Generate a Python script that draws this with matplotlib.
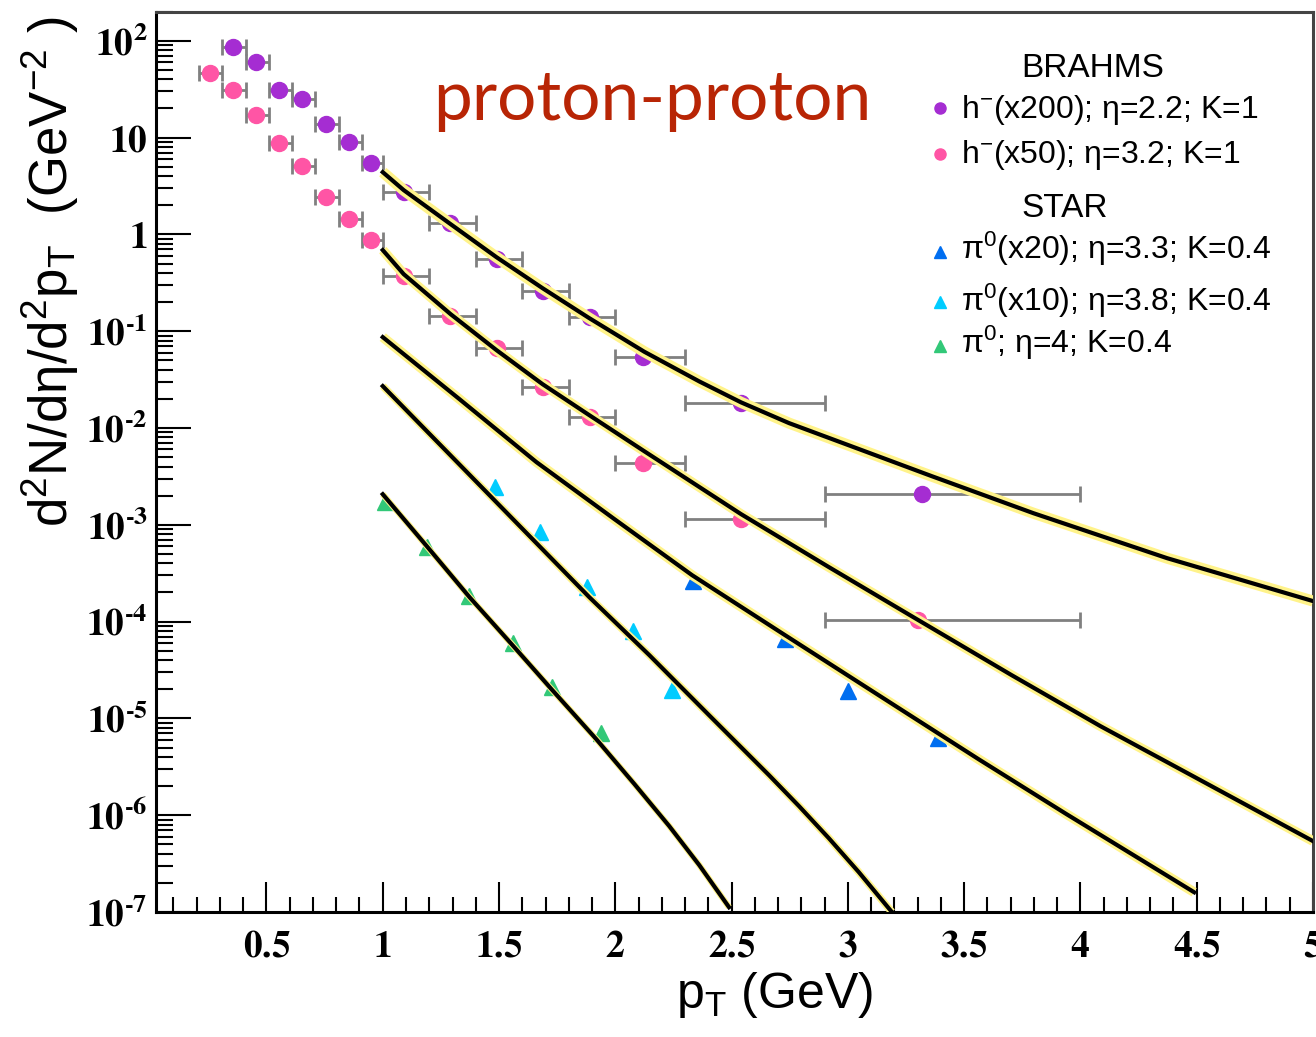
import numpy as np
import matplotlib
matplotlib.use("Agg")
import matplotlib.pyplot as plt
from matplotlib import font_manager as fm
from matplotlib.ticker import FixedLocator, MultipleLocator, NullFormatter

names = {f.name for f in fm.fontManager.ttflist}
NARROW = "Liberation Sans Narrow" if "Liberation Sans Narrow" in names else "Liberation Sans"
plt.rcParams["mathtext.fontset"] = "stix"
plt.rcParams["mathtext.rm"] = NARROW
plt.rcParams["mathtext.it"] = NARROW + ":italic"
plt.rcParams["mathtext.bf"] = NARROW + ":bold"
plt.rcParams["mathtext.sf"] = NARROW

# BRAHMS h- (x200), eta=2.2
h200_x = [0.357, 0.455, 0.555, 0.654, 0.754, 0.853, 0.951, 1.091, 1.29, 1.49, 1.69, 1.89, 2.12, 2.54, 3.32]
h200_y = [86.7, 60.7, 31.0, 25.2, 13.8, 9.05, 5.41, 2.75, 1.30, 0.556, 0.260, 0.141, 0.0536, 0.0180, 0.00207]
h200_lo = [0.31, 0.41, 0.51, 0.61, 0.71, 0.81, 0.91, 1.0, 1.2, 1.4, 1.6, 1.8, 2.0, 2.3, 2.9]
h200_hi = [0.41, 0.51, 0.61, 0.71, 0.81, 0.91, 1.0, 1.2, 1.4, 1.6, 1.8, 2.0, 2.3, 2.9, 4.0]
# BRAHMS h- (x50), eta=3.2
h50_x = [0.257, 0.357, 0.455, 0.555, 0.654, 0.754, 0.853, 0.951, 1.091, 1.29, 1.49, 1.69, 1.89, 2.12, 2.54, 3.30]
h50_y = [46.0, 31.0, 17.1, 8.71, 5.08, 2.44, 1.44, 0.873, 0.373, 0.143, 0.0664, 0.0267, 0.0129, 0.00431, 0.00116, 1.05e-4]
h50_lo = [0.21, 0.31, 0.41, 0.51, 0.61, 0.71, 0.81, 0.91, 1.0, 1.2, 1.4, 1.6, 1.8, 2.0, 2.3, 2.9]
h50_hi = [0.31, 0.41, 0.51, 0.61, 0.71, 0.81, 0.91, 1.0, 1.2, 1.4, 1.6, 1.8, 2.0, 2.3, 2.9, 4.0]
# STAR pi0
pi20_x = [2.332, 2.730, 3.0, 3.386]
pi20_y = [2.64e-4, 6.55e-5, 1.93e-5, 6.21e-6]
pi10_x = [1.481, 1.678, 1.877, 2.074, 2.243]
pi10_y = [2.47e-3, 8.47e-4, 2.29e-4, 7.98e-5, 1.96e-5]
pi1_x = [1.009, 1.190, 1.369, 1.559, 1.727, 1.939]
pi1_y = [1.73e-3, 5.93e-4, 1.83e-4, 6.04e-5, 2.09e-5, 7.0e-6]

# theory curves (yellow band = uncertainty)
thA_x = [1.0, 1.090, 1.292, 1.489, 1.687, 1.888, 2.124, 2.361, 2.541, 2.747, 2.979, 3.361, 3.798, 4.373, 5.0]
thA_y = [4.40, 2.87, 1.276, 0.582, 0.2786, 0.1365, 0.0615, 0.0303, 0.0184, 0.01124, 6.98e-3, 3.18e-3,
         1.318e-3, 4.52e-4, 1.63e-4]
thB_x = [1.0, 1.090, 1.292, 1.489, 1.687, 1.888, 2.124, 2.541, 2.918, 3.296, 3.704, 4.086, 4.373, 5.0]
thB_y = [0.689, 0.389, 0.150, 0.0638, 0.0284, 0.01358, 5.77e-3, 1.288e-3, 3.66e-4, 1.06e-4, 2.80e-5,
         8.32e-6, 3.53e-6, 5.4e-7]
thC_x = [1.0, 1.330, 1.661, 1.996, 2.330, 2.730, 3.219, 3.562, 3.940, 4.489]
thC_y = [0.0869, 0.01986, 4.44e-3, 1.146e-3, 3.02e-4, 7.24e-5, 1.277e-5, 3.79e-6, 1.026e-6, 1.60e-7]
thD_x = [1.0, 1.416, 1.888, 2.146, 2.403, 2.661, 2.790, 2.918, 3.047, 3.189]
thD_y = [0.0271, 2.58e-3, 1.79e-4, 4.51e-5, 1.08e-5, 2.59e-6, 1.24e-6, 5.79e-7, 2.58e-7, 1.0e-7]
thE_x = [1.0, 1.189, 1.373, 1.558, 1.725, 1.918, 2.082, 2.232, 2.361, 2.489]
thE_y = [2.07e-3, 6.03e-4, 1.79e-4, 5.71e-5, 2.01e-5, 6.11e-6, 2.10e-6, 7.71e-7, 3.05e-7, 1.12e-7]

xticks = [0.5, 1, 1.5, 2, 2.5, 3, 3.5, 4, 4.5, 5]
xlabels = ["0.5", "1", "1.5", "2", "2.5", "3", "3.5", "4", "4.5", "5"]
yticks = [1e-7, 1e-6, 1e-5, 1e-4, 1e-3, 1e-2, 1e-1, 1, 10, 100]
ylabels = ["10^{‐7}", "10^{‐6}", "10^{‐5}", "10^{‐4}", "10^{‐3}", "10^{‐2}", "10^{‐1}", "1", "10", "10^{2}"]

PURPLE, PINK, BLUE, CYAN, GREEN = "#A52DD2", "#FF55A5", "#006EF0", "#00CCFF", "#32C878"

W, H = 1316, 1037
fig = plt.figure(figsize=(W / 100, H / 100), dpi=100)
ax = fig.add_axes([156 / W, 1 - 912 / H, (1313 - 156) / W, (912 - 11.7) / H])
ax.set_yscale("log")
ax.set_xlim(0.025, 5.0)
ax.set_ylim(1e-7, 200)

def data(x, y, lo, hi, c):
    x = np.array(x); xe = [x - np.array(lo), np.array(hi) - x]
    ax.errorbar(x, y, xerr=xe, fmt="none", ecolor="#808080", elinewidth=2, capsize=6, capthick=2, zorder=2)
    ax.plot(x, y, "o", color=c, ms=11.5, mec=c, zorder=3)

data(h200_x, h200_y, h200_lo, h200_hi, PURPLE)
data(h50_x, h50_y, h50_lo, h50_hi, PINK)
ax.plot(pi20_x, pi20_y, "^", color=BLUE, ms=12, zorder=3)
ax.plot(pi10_x, pi10_y, "^", color=CYAN, ms=12, zorder=3)
ax.plot(pi1_x, pi1_y, "^", color=GREEN, ms=12, zorder=3)

for cx, cy, band in [(thA_x, thA_y, 8), (thB_x, thB_y, 7), (thC_x, thC_y, 7), (thD_x, thD_y, 5.5), (thE_x, thE_y, 4.5)]:
    ax.plot(cx, cy, color="#FFF38A", lw=band, solid_joinstyle="round", solid_capstyle="butt", zorder=4)
    ax.plot(cx, cy, color="black", lw=3, solid_joinstyle="round", zorder=5)

# axes, ROOT style
ax.xaxis.set_major_locator(FixedLocator(xticks))
ax.xaxis.set_minor_locator(MultipleLocator(0.1))
ax.set_xticklabels([r"$\mathbf{%s}$" % s for s in xlabels])
ax.yaxis.set_major_locator(FixedLocator(yticks))
ax.yaxis.set_minor_locator(FixedLocator([m * 10.0 ** e for e in range(-7, 3) for m in range(2, 10)]))
ax.yaxis.set_minor_formatter(NullFormatter())
ax.set_yticklabels([r"$\mathbf{%s}$" % s for s in ylabels])
ax.tick_params(axis="x", which="major", direction="in", length=21.6, width=1.5, labelsize=27, pad=12)
ax.tick_params(axis="x", which="minor", direction="in", length=10.8, width=1.5)
ax.tick_params(axis="y", which="major", direction="in", length=25, width=1.5, labelsize=27, pad=6)
ax.tick_params(axis="y", which="minor", direction="in", length=12, width=1.5)
for s in ["left", "bottom"]:
    ax.spines[s].set_linewidth(2.2)
for s in ["top", "right"]:
    ax.spines[s].set_linewidth(2.2); ax.spines[s].set_color("#444444")

fig.text(775 / W, 1 - 1008 / H, r"p$_{\mathrm{T}}$ (GeV)", fontsize=36, family=NARROW,
         ha="center", va="baseline", math_fontfamily="custom")
fig.text(50 / W, 1 - 272 / H, r"d$^{2}$N/dη/d$^{2}$p$_{\mathrm{T}}$  (GeV$^{-2}$ )", fontsize=38,
         family=NARROW, rotation=90, ha="center", va="center", math_fontfamily="custom")

fig.text(433 / W, 1 - 120 / H, "proton-proton", fontsize=50, family="Lato", color="#B82505",
         ha="left", va="baseline")

# legend
LEG = "Liberation Sans"
fig.text(1021 / W, 1 - 77 / H, "BRAHMS", fontsize=24, family=LEG, ha="left", va="baseline")
fig.text(1021 / W, 1 - 217 / H, "STAR", fontsize=24, family=LEG, ha="left", va="baseline")
entries = [
    (108, 118, "o", PURPLE, r"h$^{-}$(x200); η=2.2; K=1"),
    (154, 163, "o", PINK, r"h$^{-}$(x50); η=3.2; K=1"),
    (252, 259, "^", BLUE, r"π$^{0}$(x20); η=3.3; K=0.4"),
    (302, 311, "^", CYAN, r"π$^{0}$(x10); η=3.8; K=0.4"),
    (346, 353, "^", GREEN, r"π$^{0}$; η=4; K=0.4"),
]
for my, ty, mk, c, lab in entries:
    fig.add_artist(plt.Line2D([939.5 / W], [1 - my / H], marker=mk, color=c, ms=8 if mk == "o" else 9,
                              linestyle="none", transform=fig.transFigure))
    fig.text(961 / W, 1 - ty / H, lab, fontsize=23, family=LEG, ha="left", va="baseline",
             math_fontfamily="custom")

fig.savefig("out.png", dpi=100)
